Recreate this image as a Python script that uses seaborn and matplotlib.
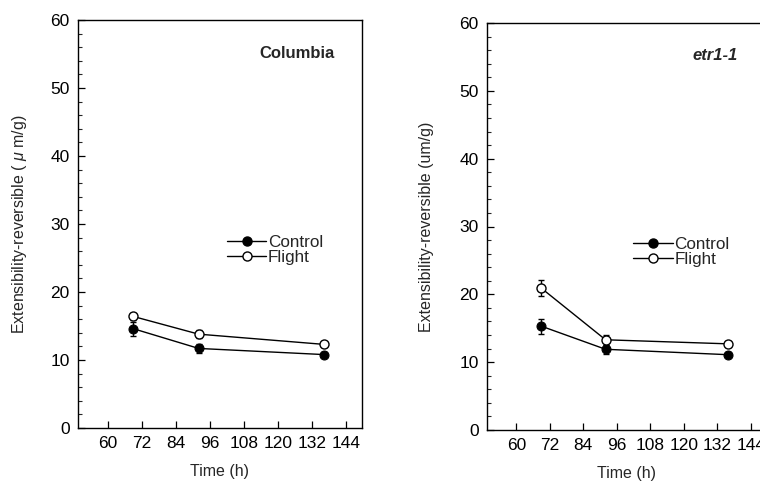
import matplotlib
matplotlib.use("Agg")
import matplotlib.pyplot as plt
from matplotlib.lines import Line2D
from matplotlib.ticker import MultipleLocator
import seaborn as sns
import pandas as pd
import numpy as np

# ---- data ----
time_h = [69, 92, 136]
col_control = [14.6, 11.7, 10.8]
col_control_err = [1.0, 0.7, 0.4]
col_flight = [16.4, 13.8, 12.3]
col_flight_err = [0.5, 0.6, 0.4]
etr_control = [15.3, 11.9, 11.1]
etr_control_err = [1.1, 0.7, 0.4]
etr_flight = [20.9, 13.3, 12.7]
etr_flight_err = [1.2, 0.7, 0.4]
x_ticks = [60, 72, 84, 96, 108, 120, 132, 144]
y_ticks = [0, 10, 20, 30, 40, 50, 60]
series_names = ["Control", "Flight"]
panel_titles = ["Columbia", "etr1-1"]
y_labels = ["Extensibility-reversible ( $\\mu$ m/g)", "Extensibility-reversible (um/g)"]

sns.set_style("ticks")
plt.rcParams["font.family"] = ["Liberation Sans", "DejaVu Sans"]
plt.rcParams["mathtext.fontset"] = "custom"
plt.rcParams["mathtext.it"] = "Liberation Sans:italic"
plt.rcParams["mathtext.rm"] = "Liberation Sans"

fig = plt.figure(figsize=(7.6, 4.84), dpi=100)
ax1 = fig.add_axes([78/760, 56/484, (362-78)/760, (428-20)/484])
ax2 = fig.add_axes([487/760, 54/484, (766-487)/760, (430-23)/484])

panels = [
    (ax1, col_control, col_control_err, col_flight, col_flight_err),
    (ax2, etr_control, etr_control_err, etr_flight, etr_flight_err),
]
ylabel_pads = [15, 18]

for i, (ax, c, ce, f, fe) in enumerate(panels):
    df = pd.DataFrame({
        "Time": time_h * 2,
        "value": c + f,
        "group": [series_names[0]] * 3 + [series_names[1]] * 3,
    })
    ax.errorbar(time_h, c, yerr=ce, fmt="none", ecolor="black", elinewidth=1.0, capsize=2.5, capthick=1.0, zorder=2)
    ax.errorbar(time_h, f, yerr=fe, fmt="none", ecolor="black", elinewidth=1.0, capsize=2.5, capthick=1.0, zorder=2)
    sns.lineplot(data=df[df.group == "Control"], x="Time", y="value", ax=ax, color="black",
                 marker="o", markersize=6.5, markerfacecolor="black", markeredgecolor="black",
                 linewidth=1.0, legend=False, zorder=3)
    sns.lineplot(data=df[df.group == "Flight"], x="Time", y="value", ax=ax, color="black",
                 marker="o", markersize=6.5, markerfacecolor="white", markeredgecolor="black",
                 markeredgewidth=1.0, linewidth=1.0, legend=False, zorder=3)
    ax.set_xlim(49.5, 149.5)
    ax.set_ylim(0, 60)
    ax.set_xticks(x_ticks)
    ax.set_yticks(y_ticks)
    ax.yaxis.set_minor_locator(MultipleLocator(2))
    ax.tick_params(axis="both", which="major", direction="in", length=5, width=0.9, labelsize=12.5, pad=6, colors="black")
    ax.tick_params(axis="y", which="minor", direction="in", length=3, width=0.8)
    for s in ax.spines.values():
        s.set_visible(True)
        s.set_linewidth(1.0)
        s.set_color("black")
    ax.set_xlabel("Time (h)", fontsize=11.5, labelpad=9)
    ax.set_ylabel(y_labels[i], fontsize=11.5, labelpad=ylabel_pads[i])
    handles = [
        Line2D([], [], color="black", lw=1.0, marker="o", markersize=6.5, markerfacecolor="black", markeredgecolor="black"),
        Line2D([], [], color="black", lw=1.0, marker="o", markersize=6.5, markerfacecolor="white", markeredgecolor="black"),
    ]
    ax.legend(handles, series_names, loc="center left", bbox_to_anchor=(0.525, 0.437), frameon=False,
              fontsize=12.3, handlelength=2.3, handletextpad=0.1, labelspacing=0.0, borderaxespad=0,
              borderpad=0)

ax1.text(0.905, 0.919, panel_titles[0], transform=ax1.transAxes, ha="right", va="center",
         fontsize=12, fontweight="bold")
ax2.text(0.90, 0.921, panel_titles[1], transform=ax2.transAxes, ha="right", va="center",
         fontsize=12, fontweight="bold", fontstyle="italic")

fig.savefig("out.png", dpi=100)
